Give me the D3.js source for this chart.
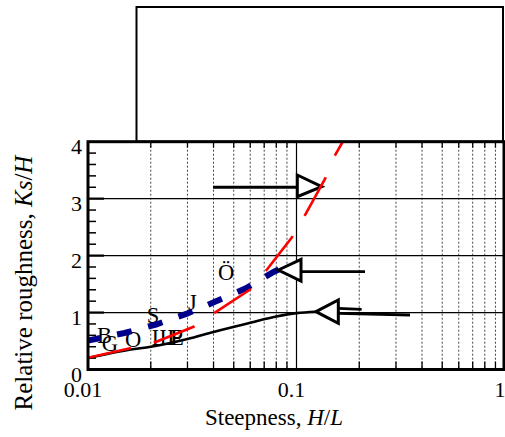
<!DOCTYPE html>
<html>
<head>
<meta charset="utf-8">
<script src="https://cdn.jsdelivr.net/npm/d3@7"></script>
<style>
  html, body { margin: 0; padding: 0; background: #fff; }
  svg { display: block; font-family: "Liberation Serif", "Times New Roman", serif; }
</style>
</head>
<body>
<div id="viz"></div>
<script>
// ---- values ----
const xMajor = [0.01, 0.1, 1];
const xTickLabels = ["0.01", "0.1", "1"];
const xMinor = [0.02, 0.03, 0.04, 0.05, 0.06, 0.07, 0.08, 0.09,
                0.2, 0.3, 0.4, 0.5, 0.6, 0.7, 0.8, 0.9];
const yMajor = [0, 1, 2, 3, 4];
const yGrid = [1, 2, 3];
const yMinor = [0.2, 0.4, 0.6, 0.8, 1.2, 1.4, 1.6, 1.8, 2.2, 2.4, 2.6, 2.8, 3.2, 3.4, 3.6, 3.8];

// black solid curve
const blackX = [0.01, 0.016, 0.02, 0.03, 0.04, 0.06, 0.08, 0.1, 0.124];
const blackY = [0.2, 0.35, 0.40, 0.535, 0.66, 0.82, 0.93, 0.99, 1.015];

// blue thick dashed curve
const blueX = [0.01, 0.01496, 0.0212, 0.02984, 0.04143, 0.05744, 0.078, 0.08429];
const blueY = [0.509, 0.641, 0.790, 0.980, 1.203, 1.431, 1.717, 1.773];

// red dashed curve
const redX = [0.01, 0.0159, 0.0205, 0.03189, 0.04021, 0.06117, 0.0714, 0.09515, 0.1086, 0.137, 0.1513, 0.1653, 0.1806];
const redY = [0.207, 0.372, 0.465, 0.746, 0.987, 1.426, 1.735, 2.321, 2.678, 3.345, 3.731, 3.977, 4.24];

// point labels (left edge, baseline)
const labelText = ["B", "G", "O", "S", "Ш", "E", "P", "J", "Ö"];
const labelX = [0.01104, 0.01163, 0.01505, 0.01912, 0.02021, 0.02474, 0.02484, 0.03017, 0.04203];
const labelY = [0.465, 0.325, 0.40, 0.825, 0.43, 0.43, 0.43, 1.045, 1.572];

// arrow heads (hollow triangles)
const arrowTipX = [0.1321, 0.0818, 0.124];
const arrowTipY = [3.21, 1.747, 1.015];
const arrowBaseX = [0.1009, 0.1051, 0.1587];
const arrowBaseTop = [3.415, 1.935, 1.22];
const arrowBaseBottom = [3.034, 1.554, 0.811];

// arrow shafts
const shaftX1 = [0.0398, 0.1051, 0.1587, 0.1587];
const shaftY1 = [3.2, 1.717, 0.987, 1.075];
const shaftX2 = [0.1009, 0.2131, 0.3503, 0.2053];
const shaftY2 = [3.2, 1.717, 0.957, 1.057];

// ---- layout ----
const W = 505, H = 437;
const plotLeft = 88, plotRight = 505, plotTop = 141.7, plotBottom = 369.5;
const frameRight = 504;

const svg = d3.select("#viz").append("svg")
  .attr("width", W)
  .attr("height", H);

const x = d3.scaleLog().domain([0.01, 1]).range([plotLeft, plotRight]);
const y = d3.scaleLinear().domain([0, 4]).range([plotBottom, plotTop]);

svg.append("defs").append("clipPath").attr("id", "plotClip")
  .append("rect")
    .attr("x", plotLeft).attr("y", plotTop)
    .attr("width", frameRight - plotLeft).attr("height", plotBottom - plotTop);

// empty box above the plot
svg.append("rect")
  .attr("x", 136.5).attr("y", 7)
  .attr("width", 503 - 136.5).attr("height", plotTop - 7)
  .attr("fill", "none")
  .attr("stroke", "#000")
  .attr("stroke-width", 2);

// grid lines
const grid = svg.append("g");
grid.selectAll(".vminor").data(xMinor).join("line")
  .attr("x1", d => x(d)).attr("x2", d => x(d))
  .attr("y1", plotTop).attr("y2", plotBottom)
  .attr("stroke", "#444")
  .attr("stroke-width", 1)
  .attr("stroke-dasharray", "2,2");
grid.append("line")
  .attr("x1", x(0.1)).attr("x2", x(0.1))
  .attr("y1", plotTop).attr("y2", plotBottom)
  .attr("stroke", "#000").attr("stroke-width", 1.2);
grid.selectAll(".hgrid").data(yGrid).join("line")
  .attr("x1", plotLeft).attr("x2", frameRight)
  .attr("y1", d => y(d)).attr("y2", d => y(d))
  .attr("stroke", "#000").attr("stroke-width", 1.2);

// ticks (inward)
const ticks = svg.append("g").attr("stroke", "#000");
ticks.selectAll(".ymin").data(yMinor).join("line")
  .attr("x1", plotLeft).attr("x2", plotLeft + 8)
  .attr("y1", d => y(d)).attr("y2", d => y(d))
  .attr("stroke-width", 1.5);
ticks.selectAll(".ymaj").data(yGrid).join("line")
  .attr("x1", plotLeft).attr("x2", plotLeft + 16)
  .attr("y1", d => y(d)).attr("y2", d => y(d))
  .attr("stroke-width", 2.2);
ticks.selectAll(".xminb").data(xMinor).join("line")
  .attr("x1", d => x(d)).attr("x2", d => x(d))
  .attr("y1", plotBottom).attr("y2", plotBottom - 8)
  .attr("stroke-width", 1.3);
ticks.selectAll(".xmint").data(xMinor).join("line")
  .attr("x1", d => x(d)).attr("x2", d => x(d))
  .attr("y1", plotTop).attr("y2", plotTop + 6)
  .attr("stroke-width", 1.3);

// point labels
svg.append("g").selectAll("text").data(labelText).join("text")
  .attr("x", (d, i) => x(labelX[i]))
  .attr("y", (d, i) => y(labelY[i]))
  .attr("font-size", 22.5)
  .attr("fill", "#000")
  .text(d => d);

const plot = svg.append("g").attr("clip-path", "url(#plotClip)");

const line = d3.line().x(d => x(d[0])).y(d => y(d[1]));
const smooth = d3.line().curve(d3.curveMonotoneX).x(d => x(d[0])).y(d => y(d[1]));

// black curve
plot.append("path")
  .datum(blackX.map((v, i) => [v, blackY[i]]))
  .attr("d", smooth)
  .attr("fill", "none")
  .attr("stroke", "#000")
  .attr("stroke-width", 2.6);

// blue dashed curve
plot.append("path")
  .datum(blueX.map((v, i) => [v, blueY[i]]))
  .attr("d", line)
  .attr("fill", "none")
  .attr("stroke", "#00008b")
  .attr("stroke-width", 6)
  .attr("stroke-dasharray", "15,17")
  .attr("stroke-dashoffset", 2.3);

// arrows
const arrows = plot.append("g");
arrows.selectAll(".shaft").data(shaftX1).join("line")
  .attr("x1", (d, i) => x(shaftX1[i])).attr("y1", (d, i) => y(shaftY1[i]))
  .attr("x2", (d, i) => x(shaftX2[i])).attr("y2", (d, i) => y(shaftY2[i]))
  .attr("stroke", "#000")
  .attr("stroke-width", 2.8);
arrows.selectAll(".head").data(arrowTipX).join("path")
  .attr("d", (d, i) => "M" + x(arrowTipX[i]) + "," + y(arrowTipY[i]) +
    "L" + x(arrowBaseX[i]) + "," + y(arrowBaseTop[i]) +
    "L" + x(arrowBaseX[i]) + "," + y(arrowBaseBottom[i]) + "Z")
  .attr("fill", "#fff")
  .attr("stroke", "#000")
  .attr("stroke-width", 3)
  .attr("stroke-linejoin", "miter");

// red dashed curve
plot.append("path")
  .datum(redX.map((v, i) => [v, redY[i]]))
  .attr("d", line)
  .attr("fill", "none")
  .attr("stroke", "#ff0000")
  .attr("stroke-width", 2.6)
  .attr("stroke-dasharray", "44,23.5");

// plot frame
svg.append("rect")
  .attr("x", plotLeft).attr("y", plotTop)
  .attr("width", frameRight - plotLeft).attr("height", plotBottom - plotTop)
  .attr("fill", "none")
  .attr("stroke", "#000")
  .attr("stroke-width", 3);

// tick labels
svg.append("g").selectAll("text").data(yMajor).join("text")
  .attr("x", 82)
  .attr("y", d => y(d) + 12)
  .attr("text-anchor", "end")
  .attr("font-size", 22)
  .text(d => d);

svg.append("g").selectAll("text").data(xMajor).join("text")
  .attr("x", d => x(d) - 5)
  .attr("y", 397)
  .attr("text-anchor", "middle")
  .attr("font-size", 22)
  .text((d, i) => xTickLabels[i]);

// axis titles
const xt = svg.append("text")
  .attr("x", 274).attr("y", 425)
  .attr("text-anchor", "middle")
  .attr("font-size", 23);
xt.append("tspan").text("Steepness, ");
xt.append("tspan").attr("font-style", "italic").text("H");
xt.append("tspan").text("/");
xt.append("tspan").attr("font-style", "italic").text("L");

const yt = svg.append("text")
  .attr("transform", "translate(31.5,283) rotate(-90)")
  .attr("text-anchor", "middle")
  .attr("font-size", 25);
yt.append("tspan").text("Relative roughness, ");
yt.append("tspan").attr("font-style", "italic").text("Ks");
yt.append("tspan").text("/");
yt.append("tspan").attr("font-style", "italic").text("H");
</script>
</body>
</html>
